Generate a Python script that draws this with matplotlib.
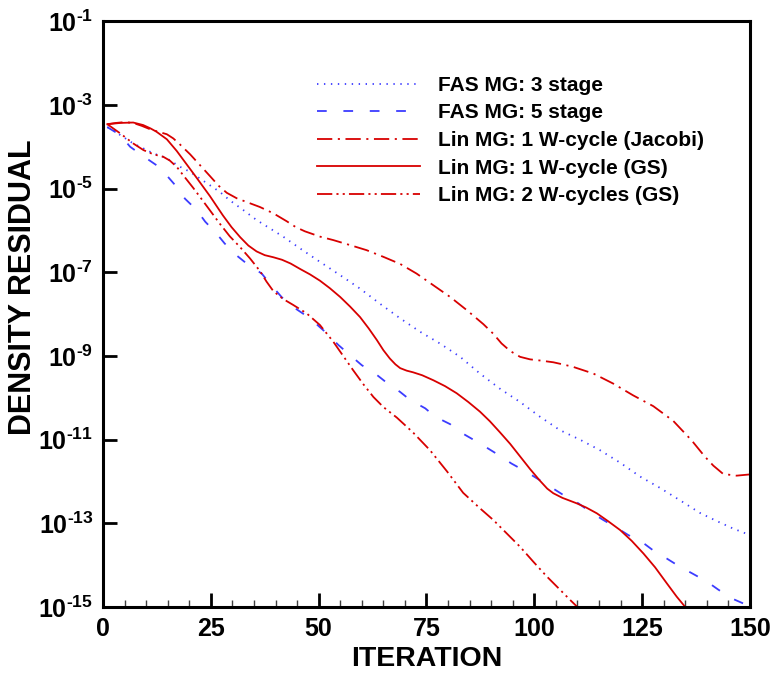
import numpy as np
import matplotlib
matplotlib.use("Agg")
import matplotlib.pyplot as plt

# iteration / log10(residual)
fas3_it = [1, 2.4, 4, 7, 9.4, 11.7, 14, 15.5, 17.9, 20.2, 22.5, 24.8, 27.1, 29.4, 32.5, 35.6, 38.7,
           41.8, 45.7, 50.3, 55, 59.6, 64.2, 68.9, 73.5, 78.1, 82.8, 87.4, 92, 96.7, 101.3, 105.9,
           110.6, 115.2, 119.9, 124.5, 129.1, 133.8, 138.4, 142, 146, 150]
fas3_log = [-3.53, -3.60, -3.72, -3.92, -4.04, -4.16, -4.24, -4.32, -4.48, -4.60, -4.76, -4.92, -5.08,
            -5.28, -5.51, -5.75, -5.95, -6.15, -6.43, -6.75, -7.07, -7.39, -7.75, -8.10, -8.42, -8.70,
            -9.02, -9.42, -9.78, -10.10, -10.45, -10.77, -11.00, -11.25, -11.55, -11.88, -12.15, -12.45,
            -12.75, -12.93, -13.12, -13.28]

fas5_it = [1, 4, 6.3, 9, 12.4, 14.4, 17.1, 19, 21.7, 23.7, 26.3, 28.2, 30.9, 33.3, 36.8, 38.7, 41.4,
           43.4, 48, 51.9, 54.6, 57.3, 60, 63.1, 65.8, 68.9, 71.2, 74.7, 77, 80.5, 82, 87.4, 92.4, 94.7,
           98.2, 101.3, 104.4, 106.7, 110.2, 112.9, 116, 118.7, 121.8, 124.9, 128, 130.7, 133.8, 136.5,
           140, 142.6, 145.7, 148.8, 150]
fas5_log = [-3.53, -3.72, -4.00, -4.20, -4.44, -4.64, -4.96, -5.24, -5.51, -5.79, -6.07, -6.31, -6.59,
            -6.79, -7.03, -7.27, -7.59, -7.78, -8.10, -8.46, -8.74, -8.98, -9.22, -9.42, -9.64, -9.86,
            -10.05, -10.25, -10.45, -10.63, -10.77, -11.09, -11.41, -11.57, -11.77, -11.97, -12.17, -12.32,
            -12.52, -12.72, -12.92, -13.08, -13.28, -13.44, -13.68, -13.84, -14.04, -14.19, -14.39,
            -14.58, -14.79, -14.93, -15.0]

jac_it = [1, 3, 5, 7, 9, 10.9, 12.8, 14.8, 16.3, 17.9, 20.2, 22.5, 24.8, 26.8, 28.7, 31, 33.3, 36.4,
          39.5, 42.6, 44.7, 46.8, 50.4, 53.4, 57.3, 61.1, 65, 68.9, 72.7, 76.6, 80.5, 84.3, 88.2, 90.5,
          92.4, 94.4, 96.7, 99, 101.5, 104.4, 107, 109, 113.7, 118.3, 122.9, 127.6, 132.2, 136.5, 139.5,
          141.5, 143.8, 146.9, 150]
jac_log = [-3.46, -3.43, -3.41, -3.43, -3.50, -3.58, -3.64, -3.70, -3.80, -3.95, -4.18, -4.44, -4.70,
           -4.93, -5.10, -5.23, -5.32, -5.44, -5.59, -5.78, -5.92, -6.02, -6.15, -6.23, -6.35, -6.47,
           -6.63, -6.80, -7.03, -7.31, -7.59, -7.90, -8.24, -8.47, -8.70, -8.88, -9.02, -9.08, -9.11,
           -9.15, -9.21, -9.26, -9.42, -9.66, -9.94, -10.20, -10.55, -11.02, -11.40, -11.62, -11.82,
           -11.86, -11.83]

gs1_it = [1, 4, 7, 9.3, 11, 12.4, 14.8, 17.1, 19.4, 21.7, 24.8, 27.8, 29.8, 31.8, 33.7, 35.6, 37.5,
          39.5, 41.5, 43.5, 45.7, 48, 50.3, 52.6, 55, 57.3, 59.6, 61.6, 63.5, 65, 66.5, 67.8, 68.9,
          70.4, 71.9, 74, 76.6, 79.3, 82, 84.7, 87.4, 89.7, 92, 94.4, 96.7, 99, 101.3, 103, 104.4,
          106.5, 109.8, 112, 114.5, 117, 119.9, 122.6, 125.3, 128, 130.7, 133, 135]
gs1_log = [-3.46, -3.43, -3.42, -3.48, -3.56, -3.64, -3.82, -4.10, -4.42, -4.74, -5.18, -5.64, -5.92,
           -6.16, -6.36, -6.50, -6.59, -6.64, -6.70, -6.79, -6.92, -7.05, -7.20, -7.38, -7.59, -7.82,
           -8.07, -8.34, -8.62, -8.86, -9.06, -9.20, -9.29, -9.35, -9.39, -9.46, -9.58, -9.72, -9.89,
           -10.10, -10.33, -10.56, -10.82, -11.10, -11.40, -11.70, -11.98, -12.17, -12.28, -12.39,
           -12.52, -12.62, -12.76, -12.94, -13.16, -13.42, -13.72, -14.05, -14.43, -14.75, -15.0]

gs2_it = [1, 4, 7, 9.4, 11.7, 14, 15.5, 17.1, 18.6, 20.9, 22.5, 24.8, 27.1, 29.4, 31.8, 34.1, 36.4,
          37.9, 39.5, 41.8, 44.1, 47.2, 50.3, 53.4, 55.7, 58, 60.4, 62.7, 65, 68.1, 71.9, 75.8, 79.7,
          83.5, 87.4, 90.5, 93.6, 96.7, 99.8, 102.9, 106, 108.3, 110]
gs2_log = [-3.46, -3.68, -3.92, -4.08, -4.18, -4.24, -4.33, -4.48, -4.68, -4.98, -5.20, -5.52, -5.84,
           -6.14, -6.40, -6.67, -6.97, -7.22, -7.45, -7.64, -7.78, -7.98, -8.26, -8.66, -9.00, -9.34,
           -9.68, -9.98, -10.22, -10.47, -10.83, -11.25, -11.75, -12.27, -12.64, -12.92, -13.24, -13.56,
           -13.92, -14.27, -14.59, -14.83, -15.0]

labels = ['FAS MG: 3 stage', 'FAS MG: 5 stage', 'Lin MG: 1 W-cycle (Jacobi)',
          'Lin MG: 1 W-cycle (GS)', 'Lin MG: 2 W-cycles (GS)']
xticks = [0, 25, 50, 75, 100, 125, 150]
yexp = [-15, -13, -11, -9, -7, -5, -3, -1]
ytick_labels = [r'$10^{\text{-%d}}$' % -e for e in yexp]

plt.rcParams['font.family'] = ['Liberation Sans', 'DejaVu Sans']
plt.rcParams['font.weight'] = 'bold'
plt.rcParams['mathtext.fontset'] = 'custom'
plt.rcParams['mathtext.rm'] = 'Liberation Sans:bold'
plt.rcParams['mathtext.bf'] = 'Liberation Sans:bold'
plt.rcParams['mathtext.it'] = 'Liberation Sans:bold'
plt.rcParams['lines.scale_dashes'] = False

red = '#d80000'
blue = '#3c3cff'

fig = plt.figure(figsize=(7.75, 6.73), dpi=100)
ax = fig.add_axes([0.1329, 0.098, 0.8348, 0.8704])

lw = 1.3
ax.plot(fas3_it, 10 ** np.array(fas3_log), color=blue, lw=lw, linestyle=(0, (1, 4)), label=labels[0])
ax.plot(fas5_it, 10 ** np.array(fas5_log), color=blue, lw=lw, linestyle=(0, (7, 12)), label=labels[1])
ax.plot(jac_it, 10 ** np.array(jac_log), color=red, lw=lw, linestyle=(0, (11, 4, 1.5, 4)), label=labels[2])
ax.plot(gs1_it, 10 ** np.array(gs1_log), color=red, lw=lw, linestyle='-', label=labels[3])
ax.plot(gs2_it, 10 ** np.array(gs2_log), color=red, lw=lw, linestyle=(0, (11, 3, 1.5, 3, 1.5, 3)), label=labels[4])

ax.set_yscale('log')
ax.set_xlim(0, 150)
ax.set_ylim(1e-15, 1e-1)

ax.set_xticks(xticks)
ax.set_xticks(np.arange(0, 151, 5), minor=True)
ax.set_yticks([10.0 ** e for e in yexp])
ax.set_yticks([], minor=True)
ax.set_yticklabels(ytick_labels, fontsize=18)
ax.set_xticklabels([str(t) for t in xticks], fontweight='bold', fontsize=18)

ax.tick_params(axis='both', which='major', direction='in', length=10, width=2.0, color='black', pad=7)
ax.tick_params(axis='x', which='minor', direction='in', length=5, width=1.0, color='#404040')
for s in ax.spines.values():
    s.set_linewidth(2.2)

ax.set_xlabel('ITERATION', fontweight='bold', fontsize=20.5)
ax.set_ylabel('DENSITY RESIDUAL', fontweight='bold', fontsize=22)
ax.xaxis.set_label_coords(0.5, -0.067)
ax.yaxis.set_label_coords(-0.1, 0.546)

leg = ax.legend(loc='upper left', bbox_to_anchor=(0.318, 0.921), frameon=False,
                prop={'family': 'Liberation Sans', 'weight': 'bold', 'size': 15},
                handlelength=4.95, handletextpad=0.87, labelspacing=0.41, borderaxespad=0)

fig.savefig('out.png', dpi=100)
